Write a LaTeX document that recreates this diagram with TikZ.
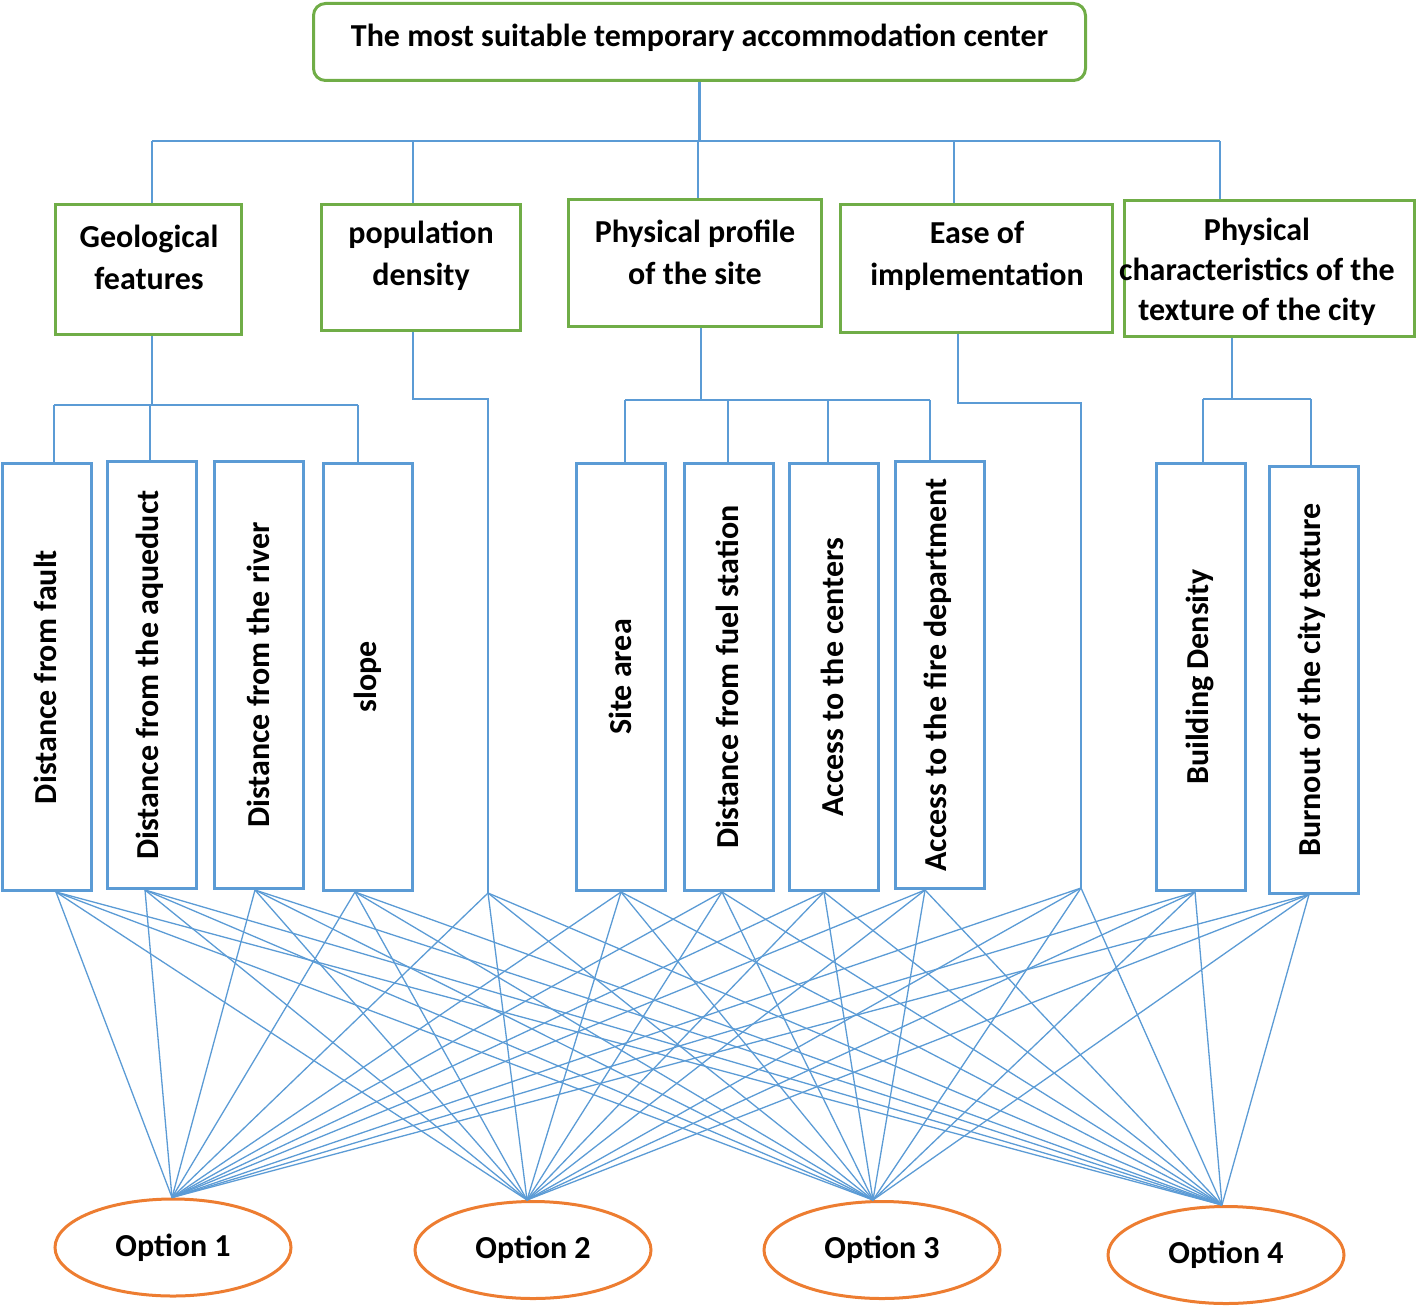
\documentclass[tikz,border=0pt]{standalone}
\usepackage{fontspec}
\setmainfont{Carlito}
\usetikzlibrary{shapes.geometric}
\definecolor{cgreen}{HTML}{70AD47}
\definecolor{cblue}{HTML}{5B9BD5}
\definecolor{corange}{HTML}{ED7D31}
\tikzset{
  gbox/.style={draw=cgreen, line width=3pt, inner sep=0pt, rectangle},
  bbox/.style={draw=cblue, line width=3pt, inner sep=0pt, rectangle, minimum width=89pt, minimum height=427pt},
  tree/.style={draw=cblue, line width=2.5pt},
  link/.style={draw=cblue, line width=1.3pt},
  opt/.style={ellipse, draw=corange, line width=3pt, inner sep=0pt, minimum width=236pt, minimum height=97pt, font=\bfseries\fontsize{32}{38}\selectfont},
  lbl/.style={font=\bfseries\fontsize{32}{42}\selectfont, align=center, inner sep=0pt},
  vlbl/.style={font=\bfseries\fontsize{32}{38}\selectfont, rotate=90, inner sep=0pt},
}
\begin{document}
\begin{tikzpicture}[x=1pt,y=-1pt]
\useasboundingbox (0,0) rectangle (1418,1308);
% top
\node[gbox, rounded corners=12pt, minimum width=772pt, minimum height=77pt] (top) at (699.5,42) {};
\node[lbl] (toptxt) at (699.5,38) {The most suitable temporary accommodation center};
% second level
\node[gbox, minimum width=186pt, minimum height=130pt] (g1) at (148.5,269.5) {};
\node[gbox, minimum width=199pt, minimum height=126pt] (g2) at (421,267.5) {};
\node[gbox, minimum width=253pt, minimum height=127pt] (g3) at (695,263) {};
\node[gbox, minimum width=272pt, minimum height=128pt] (g4) at (976.5,268.5) {};
\node[gbox, minimum width=290pt, minimum height=136pt] (g5) at (1269.5,268.5) {};
\node[lbl] (t1) at (149,257) {Geological\\features};
\node[lbl] (t2) at (421,256) {population\\density};
\node[lbl] (t3) at (695,252) {Physical profile\\of the site};
\node[lbl] (t4) at (977,256) {Ease of\\implementation};
\node[lbl, font=\bfseries\fontsize{32}{40}\selectfont] (t5) at (1257,272) {Physical\\characteristics of the\\texture of the city};
% third level
\node[bbox] (a) at (47,677) {};
\node[bbox] (b) at (152,675) {};
\node[bbox] (c) at (259,675) {};
\node[bbox] (d) at (367.5,677) {};
\node[bbox] (e) at (621,677) {};
\node[bbox] (f) at (729,677) {};
\node[bbox] (g) at (834,677) {};
\node[bbox] (h) at (939.5,675) {};
\node[bbox] (i) at (1201,677) {};
\node[bbox] (j) at (1314,679.5) {};
\node[vlbl] (ta) at (45,677) {Distance from fault};
\node[vlbl] (tb) at (150,675) {Distance from the aqueduct};
\node[vlbl] (tc) at (258,675) {Distance from the river};
\node[vlbl] (td) at (368,677) {slope};
\node[vlbl] (te) at (620,677) {Site area};
\node[vlbl] (tf) at (727,677) {Distance from fuel station};
\node[vlbl] (tg) at (832,677) {Access to the centers};
\node[vlbl] (th) at (938,675) {Access to the fire department};
\node[vlbl] (ti) at (1200,677) {Building Density};
\node[vlbl] (tj) at (1312,680) {Burnout of the city texture};
% options
\node[opt] (o1) at (173,1247.5) {Option 1};
\node[opt] (o2) at (533,1250) {Option 2};
\node[opt] (o3) at (882,1250) {Option 3};
\node[opt] (o4) at (1226,1255) {Option 4};
% bus from top
\coordinate (bus) at (0,141);
\coordinate (g1N) at ([xshift=3.5pt]g1.north);
\coordinate (g2N) at ([xshift=-8pt]g2.north);
\coordinate (g3N) at ([xshift=3pt]g3.north);
\coordinate (g4N) at ([xshift=-22.5pt]g4.north);
\coordinate (g5N) at ([xshift=-49.5pt]g5.north);
\draw[tree] (top.south) -- (top.south |- bus);
\draw[tree] (g1N |- bus) -- (g5N |- bus);
\foreach \n in {g1N,g2N,g3N,g4N,g5N} \draw[tree] (\n) -- (\n |- bus);
% geological subtree
\coordinate (g1S) at ([xshift=3.5pt]g1.south);
\coordinate (barG) at (0,405);
\coordinate (aN) at ([xshift=7pt]a.north);
\coordinate (bN) at ([xshift=-2pt]b.north);
\coordinate (dN) at ([xshift=-9.5pt]d.north);
\draw[tree] (g1S) -- (g1S |- barG);
\draw[tree] (aN |- barG) -- (dN |- barG);
\foreach \n in {aN,bN,dN} \draw[tree] (\n) -- (\n |- barG);
% population density
\coordinate (g2S) at ([xshift=-8pt]g2.south);
\coordinate (pd) at (488,893);
\coordinate (barPD) at (0,399);
\draw[tree] (g2S) -- (g2S |- barPD) -- (pd |- barPD) -- (pd);
% physical profile subtree
\coordinate (g3S) at ([xshift=6pt]g3.south);
\coordinate (barP) at (0,400);
\coordinate (eN) at ([xshift=4pt]e.north);
\coordinate (fN) at ([xshift=-1pt]f.north);
\coordinate (gN) at ([xshift=-6pt]g.north);
\coordinate (hN) at ([xshift=-9.5pt]h.north);
\draw[tree] (g3S) -- (g3S |- barP);
\draw[tree] (eN |- barP) -- (hN |- barP);
\foreach \n in {eN,fN,gN,hN} \draw[tree] (\n) -- (\n |- barP);
% ease of implementation
\coordinate (g4S) at ([xshift=-18.5pt]g4.south);
\coordinate (ease) at (1081,888);
\coordinate (barE) at (0,403);
\draw[tree] (g4S) -- (g4S |- barE) -- (ease |- barE) -- (ease);
% physical characteristics subtree
\coordinate (g5S) at ([xshift=-37.5pt]g5.south);
\coordinate (barC) at (0,399);
\coordinate (iN) at ([xshift=2pt]i.north);
\coordinate (jN) at ([xshift=-3pt]j.north);
\draw[tree] (g5S) -- (g5S |- barC);
\draw[tree] (iN |- barC) -- (jN |- barC);
\foreach \n in {iN,jN} \draw[tree] (\n) -- (\n |- barC);
% sources of the links
\coordinate (sa) at ([xshift=9pt]a.south);
\coordinate (sb) at ([xshift=-7pt]b.south);
\coordinate (sc) at ([xshift=-4pt]c.south);
\coordinate (sd) at ([xshift=-12.5pt]d.south);
\coordinate (se) at (e.south);
\coordinate (sf) at ([xshift=-7pt]f.south);
\coordinate (sg) at ([xshift=-10pt]g.south);
\coordinate (sh) at ([xshift=-14.5pt]h.south);
\coordinate (si) at ([xshift=-6pt]i.south);
\coordinate (sj) at ([xshift=-5pt]j.south);
\coordinate (p1) at ([xshift=-1pt]o1.north);
\coordinate (p2) at ([xshift=-6pt]o2.north);
\coordinate (p3) at ([xshift=-9pt]o3.north);
\coordinate (p4) at ([xshift=-4pt]o4.north);
\foreach \s in {sa,sb,sc,sd,pd,se,sf,sg,sh,ease,si,sj}
  \foreach \o in {p1,p2,p3,p4}
    \draw[link] (\s) -- (\o);
\end{tikzpicture}
\end{document}
